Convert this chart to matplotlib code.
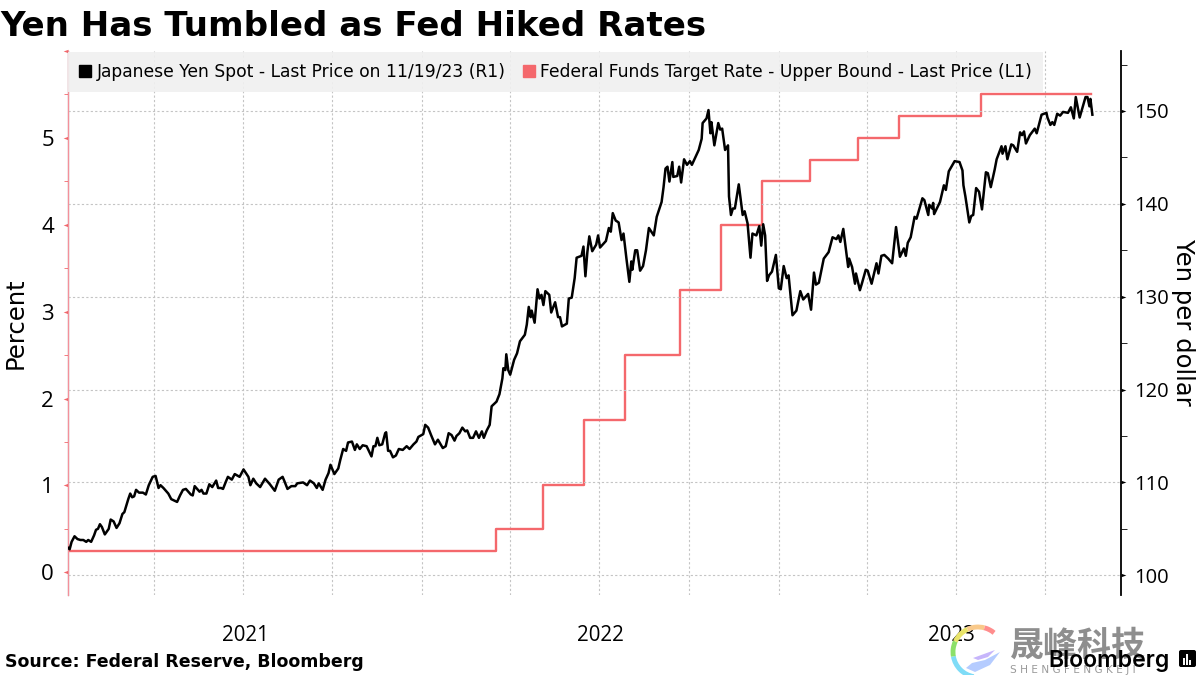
import matplotlib
matplotlib.use('Agg')
import matplotlib.pyplot as plt
import matplotlib.patches as mpatches
from matplotlib.path import Path
import pandas as pd

# Yen spot: days since 2021-01-01, and yen per dollar
yen_days = [
    2, 4, 6, 9, 12, 15, 18, 21, 23, 26, 29, 31, 33, 35, 37, 40, 44, 46, 49, 52, 55, 58, 60, 64, 66, 68, 70, 72, 75, 79,
    82, 85, 89, 92, 95, 97, 100, 105, 108, 114, 117, 120, 123, 128, 130, 132, 137, 139, 141, 144, 147, 150, 154, 156,
    159, 161, 164, 166, 170, 173, 178, 182, 187, 189, 192, 195, 199, 204, 209, 214, 218, 222, 224, 227, 231, 235, 237,
    243, 247, 250, 254, 257, 259, 263, 266, 269, 271, 275, 279, 281, 284, 287, 289, 293, 296, 298, 301, 304, 308, 313,
    315, 317, 319, 321, 324, 327, 328, 330, 332, 335, 338, 341, 345, 349, 352, 356, 359, 361, 366, 368, 371, 374, 378,
    381, 386, 389, 392, 395, 398, 400, 403, 406, 409, 411, 414, 417, 420, 423, 426, 428, 431, 434, 436, 441, 444, 447,
    448, 450, 451, 453, 455, 459, 462, 465, 470, 472, 474, 476, 477, 480, 483, 485, 487, 489, 491, 495, 497, 501, 504,
    506, 508, 513, 515, 518, 521, 523, 528, 530, 532, 534, 536, 539, 543, 545, 547, 553, 556, 558, 560, 563, 566, 569,
    571, 574, 577, 579, 580, 583, 585, 588, 591, 594, 597, 602, 605, 610, 612, 614, 616, 618, 621, 622, 626, 628, 630,
    633, 636, 639, 641, 648, 651, 652, 656, 658, 660, 661, 664, 668, 670, 672, 675, 678, 679, 681, 683, 685, 689, 693,
    695, 698, 701, 703, 707, 710, 712, 714, 716, 718, 720, 723, 727, 730, 732, 735, 738, 740, 744, 748, 752, 755, 760,
    763, 766, 768, 771, 776, 781, 785, 789, 791, 793, 796, 801, 802, 805, 808, 809, 813, 815, 819, 821, 825, 830, 832,
    835, 838, 842, 846, 850, 854, 858, 860, 862, 865, 869, 871, 877, 879, 883, 884, 887, 888, 889, 895, 899, 901, 904,
    910, 915, 918, 919, 921, 925, 927, 929, 932, 935, 938, 942, 944, 947, 951, 953, 958, 959, 962, 964, 968, 970, 974,
    977, 979, 981, 983, 987, 992, 994, 999, 1004, 1005, 1008, 1010, 1012, 1015, 1018, 1021, 1026, 1029, 1032, 1034,
    1038, 1044, 1046, 1048, 1049, 1051,
]
yen_values = [
    103.0, 102.8, 103.6, 104.2, 103.9, 103.8, 103.8, 103.6, 103.8, 103.6, 104.3, 104.9, 105.0, 105.5, 105.2, 104.4,
    105.0, 106.0, 105.8, 105.1, 105.6, 106.6, 106.8, 108.2, 108.8, 108.4, 108.5, 109.2, 108.9, 108.9, 108.7, 109.7,
    110.6, 110.7, 109.4, 109.7, 109.4, 108.8, 108.2, 107.9, 108.6, 109.2, 109.3, 108.7, 108.6, 109.6, 109.0, 109.2,
    108.8, 108.8, 109.8, 109.5, 110.2, 109.4, 109.4, 109.3, 110.1, 110.6, 110.3, 110.9, 110.6, 111.4, 110.6, 109.7,
    110.4, 109.9, 109.5, 110.4, 109.8, 109.1, 110.3, 110.6, 110.1, 109.3, 109.6, 109.6, 109.9, 110.0, 109.7, 110.2,
    109.9, 109.4, 109.9, 109.2, 110.3, 111.0, 111.9, 110.9, 111.5, 112.4, 113.6, 113.4, 114.3, 114.4, 113.5, 114.1,
    113.6, 114.0, 113.9, 112.8, 113.9, 113.9, 114.8, 114.0, 114.1, 115.3, 115.4, 113.4, 113.4, 112.7, 112.9, 113.6,
    113.5, 113.9, 113.6, 114.1, 114.4, 114.9, 115.2, 116.2, 115.9, 115.1, 114.1, 114.6, 113.7, 113.9, 115.3, 115.1,
    114.5, 115.0, 115.3, 115.9, 115.5, 115.6, 114.8, 114.8, 115.5, 114.8, 115.5, 114.8, 115.6, 116.2, 118.2, 118.7,
    119.5, 121.2, 122.3, 122.1, 123.8, 122.1, 121.6, 123.2, 123.9, 125.2, 125.9, 127.0, 128.9, 127.8, 128.5, 127.2,
    130.8, 129.8, 130.2, 129.1, 130.6, 130.2, 128.3, 129.4, 127.8, 127.8, 126.8, 127.1, 129.8, 129.9, 132.0, 134.2,
    134.4, 135.4, 132.2, 134.8, 136.5, 134.9, 135.6, 136.6, 135.3, 136.0, 137.4, 137.0, 139.0, 138.2, 138.0, 136.1,
    136.8, 134.1, 131.6, 133.8, 132.9, 135.0, 135.0, 132.8, 133.3, 135.0, 137.4, 136.6, 138.6, 140.2, 141.8, 143.8,
    144.0, 142.4, 144.5, 142.9, 143.0, 144.0, 142.3, 144.8, 144.2, 144.6, 144.2, 145.8, 147.0, 148.7, 149.2, 150.1,
    147.6, 148.8, 146.3, 148.7, 148.0, 148.1, 145.8, 146.3, 140.8, 138.8, 139.5, 139.5, 142.1, 138.8, 139.2, 137.9,
    134.2, 136.8, 136.6, 137.6, 135.5, 137.8, 136.6, 131.7, 132.3, 132.7, 134.5, 130.9, 130.8, 133.3, 132.0, 132.3,
    128.0, 128.5, 130.6, 129.7, 130.3, 128.6, 132.6, 131.3, 131.5, 134.1, 134.8, 136.4, 136.2, 136.6, 135.9, 137.3,
    133.2, 134.1, 133.2, 131.4, 132.5, 130.7, 131.4, 132.9, 132.8, 131.4, 133.6, 132.5, 134.4, 134.5, 134.1, 133.6,
    137.5, 134.3, 135.2, 134.4, 135.8, 136.4, 138.6, 138.4, 140.6, 140.4, 138.8, 139.9, 139.5, 140.1, 138.9, 140.2,
    142.0, 141.5, 143.5, 144.6, 144.5, 143.6, 142.0, 140.8, 138.0, 138.7, 138.8, 141.7, 141.3, 139.4, 143.4, 143.3,
    141.8, 143.7, 144.8, 146.2, 145.4, 146.2, 144.8, 146.4, 146.3, 145.6, 147.7, 147.4, 147.8, 146.5, 147.4, 148.1,
    147.6, 149.6, 149.8, 149.3, 148.5, 148.8, 148.5, 149.7, 149.5, 149.9, 149.8, 150.4, 149.2, 151.5, 149.3, 151.5,
    151.5, 150.5, 151.3, 149.6,
]

# Fed funds upper bound, changes on FOMC dates
fed_dates = ['2021-01-03', '2022-03-17', '2022-05-05', '2022-06-16', '2022-07-28', '2022-09-22', '2022-11-03',
             '2022-12-15', '2023-02-02', '2023-03-23', '2023-05-04', '2023-07-27', '2023-11-17']
fed_rates = [0.25, 0.5, 1.0, 1.75, 2.5, 3.25, 4.0, 4.5, 4.75, 5.0, 5.25, 5.5, 5.5]

quarter_dates = pd.date_range('2021-04-01', '2023-10-01', freq='QS')
year_centers = pd.to_datetime(['2021-07-04', '2022-07-02', '2023-06-27'])
year_labels = ['2021', '2022', '2023']

RED = '#f4686c'
GRID = '#c4c4c4'

start = pd.Timestamp('2021-01-01')
yen_x = start + pd.to_timedelta(yen_days, unit='D')

fig = plt.figure(figsize=(12, 6.75), dpi=100)
ax = fig.add_axes([67.7 / 1200, 1 - 594.5 / 675, 1053 / 1200, 543.5 / 675])
ax2 = ax.twinx()

ax.step(pd.to_datetime(fed_dates), fed_rates, where='post', color=RED, lw=1.7, zorder=3)
ax2.plot(yen_x, yen_values, color='black', lw=1.8, zorder=4)

ax.set_xlim(pd.Timestamp('2021-01-03'), pd.Timestamp('2023-12-17'))
ax.set_ylim(-0.256, 6.0)
ax2.set_ylim(97.93, 156.46)

# grid: quarters on x, right axis on y
ax.set_xticks(quarter_dates)
ax.set_xticklabels([])
ax.set_xticks(year_centers, labels=year_labels, minor=True)
ax.tick_params(axis='x', which='major', length=0)
ax.tick_params(axis='x', which='minor', length=0, pad=22)
ax.grid(axis='x', which='major', color=GRID, ls=(0, (2, 2)), lw=0.8)
ax.set_axisbelow(True)

ax.set_yticks([0, 1, 2, 3, 4, 5, 6], labels=['0', '1', '2', '3', '4', '5', ''])
ax.set_yticks([0.5, 1.5, 2.5, 3.5, 4.5, 5.5], minor=True)
ax.tick_params(axis='y', which='major', length=7, pad=3, color=RED)
ax.tick_params(axis='y', which='minor', length=3, color=RED)

ax2.set_yticks([100, 110, 120, 130, 140, 150])
ax2.set_yticks([105, 115, 125, 135, 145, 155], minor=True)
ax2.tick_params(axis='y', which='major', length=7, pad=3)
ax2.tick_params(axis='y', which='minor', length=4)
ax2.grid(axis='y', which='major', color=GRID, ls=(0, (2, 2)), lw=0.8)
ax2.set_axisbelow(True)

for label in ax.get_xticklabels(minor=True):
    label.set_fontfamily('Open Sans')
    label.set_fontsize(14.8)
for label in ax.get_yticklabels():
    label.set_fontfamily('Open Sans')
    label.set_fontsize(16)
for label in ax2.get_yticklabels():
    label.set_fontfamily('Open Sans')
    label.set_fontsize(14.5)

# triangles instead of plain major ticks
left_tri = Path([(0, -0.35), (0, 0.35), (-1, 0), (0, -0.35)])
right_tri = Path([(0, -0.35), (0, 0.35), (1, 0), (0, -0.35)])
for t in ax.yaxis.get_major_ticks():
    t.tick1line.set_marker(left_tri)
    t.tick1line.set_markerfacecolor(RED)
    t.tick1line.set_markeredgewidth(0)
for t in ax2.yaxis.get_major_ticks():
    t.tick2line.set_marker(right_tri)
    t.tick2line.set_markerfacecolor('black')
    t.tick2line.set_markeredgewidth(0)

for a in [ax, ax2]:
    a.spines['top'].set_visible(False)
    a.spines['bottom'].set_visible(False)
ax.spines['right'].set_visible(False)
ax2.spines['left'].set_color('#f4909a')
ax2.spines['left'].set_linewidth(0.9)
ax2.spines['right'].set_linewidth(1.3)

ax.set_ylabel('Percent', fontsize=17.5)
ax.yaxis.set_label_coords(-0.0385, 0.5)
ax2.set_ylabel('Yen per dollar', fontsize=17.5, rotation=270, labelpad=0)
ax2.yaxis.set_label_coords(1.0705, 0.5)

handles = [mpatches.Patch(color='black'), mpatches.Patch(color=RED)]
legend_labels = ['Japanese Yen Spot - Last Price on 11/19/23 (R1)',
                 'Federal Funds Target Rate - Upper Bound - Last Price (L1)']
ax2.legend(handles, legend_labels, ncol=2, loc='upper left', bbox_to_anchor=(0.0005, 0.998), borderaxespad=0,
           fontsize=12.3, facecolor='#f0f0f0', edgecolor='none', framealpha=0.9, fancybox=False,
           handlelength=0.7, handleheight=0.7, handletextpad=0.3, columnspacing=1.05,
           borderpad=0.65, labelspacing=0)

# everything outside the axes, placed in image pixels
over = fig.add_axes([0, 0, 1, 1], zorder=10)
over.set_xlim(0, 1200)
over.set_ylim(675, 0)
over.axis('off')

over.text(0, 27, 'Yen Has Tumbled as Fed Hiked Rates', fontsize=24.6, fontweight='bold', va='center', ha='left')
over.text(5, 662, 'Source: Federal Reserve, Bloomberg', fontsize=12.5, fontweight='bold', va='center', ha='left')

# watermark
for a1, a2, c in [(100, 170, '#7fdcf7'), (170, 205, '#8ce06a'), (205, 245, '#e9e46a'), (245, 285, '#f9c98a'),
                  (285, 310, '#ff8d8d')]:
    over.add_patch(mpatches.Arc((978, 652), 50, 50, theta1=a1, theta2=a2, color=c, lw=3.5))
over.add_patch(mpatches.Polygon([(966, 668), (975, 672), (990, 665), (1000, 652), (985, 660), (972, 663)],
                                color='#b5ccff', lw=0))
over.add_patch(mpatches.Polygon([(973, 658), (995, 650), (988, 657), (978, 660)], color='#c6b5fb', lw=0))
over.text(1010, 645, '晟峰科技', fontsize=24.5, fontweight='bold', color='#8e8e8e', va='center', ha='left',
          family=['Noto Sans CJK SC', 'DejaVu Sans'])
over.text(1010, 670, 'S H E N G F E N G K E J I', fontsize=7.6, color='#9a9a9a', va='center', ha='left')

over.text(1048, 661, 'Bloomberg', fontsize=16.6, fontweight='semibold', family='Inter', va='center', ha='left')
over.add_patch(mpatches.FancyBboxPatch((1181, 652), 13, 13, boxstyle='round,pad=2', color='black', lw=0))
for bar_x, bar_top in [(1184, 658), (1187, 654), (1190, 660)]:
    over.plot([bar_x, bar_x], [bar_top, 665], color='white', lw=1.4, solid_capstyle='butt')

fig.savefig('out.png', dpi=100)
